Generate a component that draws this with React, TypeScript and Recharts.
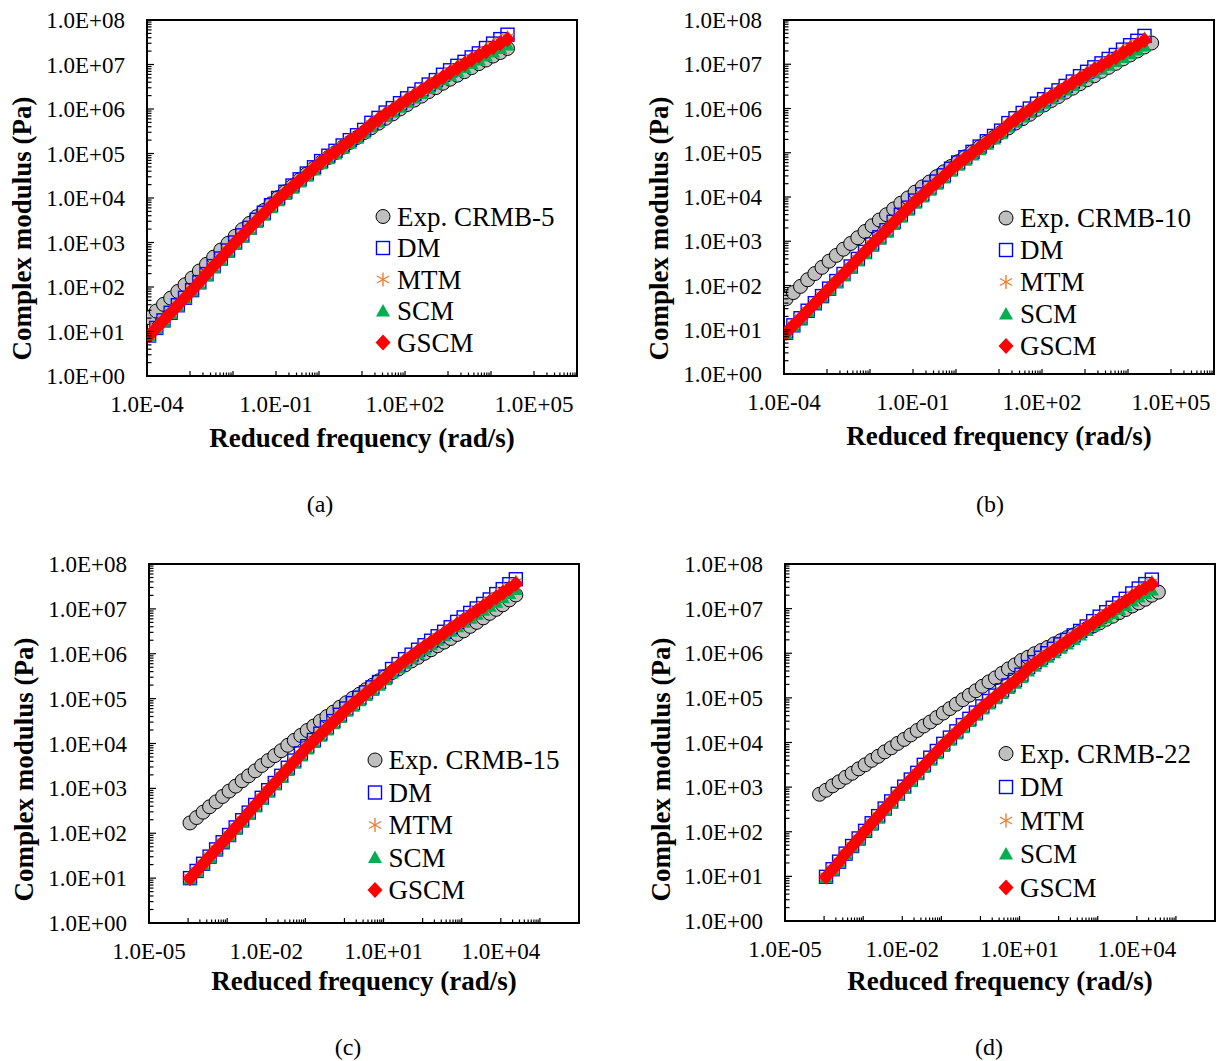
import React from 'react';
import { ScatterChart, Scatter, XAxis, YAxis, ReferenceArea } from 'recharts';

const FONT = "'Liberation Serif', 'Times New Roman', Times, serif";

// ---------- data ----------
// reduced frequency grid (rad/s), about six points per decade
const freqGrid = [
  1.12e-4, 1.65e-4, 2.42e-4, 3.55e-4, 5.21e-4, 7.65e-4,
  1.12e-3, 1.65e-3, 2.42e-3, 3.55e-3, 5.21e-3, 7.65e-3,
  1.12e-2, 1.65e-2, 2.42e-2, 3.55e-2, 5.21e-2, 7.65e-2,
  0.112, 0.165, 0.242, 0.355, 0.521, 0.765,
  1.12, 1.65, 2.42, 3.55, 5.21, 7.65,
  11.2, 16.5, 24.2, 35.5, 52.1, 76.5,
  112, 165, 242, 355, 521, 765,
  1120, 1650, 2420, 3550, 5210, 7650,
  11200, 16500, 24200,
];
const freqB_exp = [...freqGrid, 35500];
const freqD_exp = [7.65e-5, ...freqGrid, 35500];

// log10 of complex modulus |G*| (Pa)
const logA_exp = [1.31,1.46,1.61,1.75,1.90,2.05, 2.20,2.36,2.51,2.67,2.83,2.98, 3.14,3.29,3.43,3.58,3.72,3.87, 4.01,4.14,4.27,4.41,4.54,4.67, 4.80,4.91,5.02,5.14,5.25,5.36, 5.47,5.58,5.68,5.79,5.89,6.00, 6.10,6.20,6.29,6.39,6.48,6.58, 6.67,6.76,6.84,6.93,7.02,7.10, 7.19,7.27,7.36];
const logA_dm = [0.91,1.08,1.25,1.42,1.59,1.76, 1.93,2.11,2.29,2.47,2.64,2.82, 3.00,3.16,3.33,3.51,3.67,3.84, 4.00,4.14,4.28,4.42,4.55,4.69, 4.83,4.95,5.06,5.18,5.30,5.41, 5.53,5.69,5.80,5.92,6.02,6.13, 6.24,6.34,6.44,6.55,6.65,6.77, 6.87,6.97,7.06,7.16,7.25,7.37, 7.47,7.57,7.67];
const logA_mtm = [0.92,1.09,1.26,1.43,1.60,1.77, 1.94,2.12,2.30,2.48,2.65,2.83, 3.01,3.17,3.34,3.50,3.66,3.83, 3.99,4.13,4.27,4.41,4.54,4.68, 4.82,4.94,5.05,5.17,5.29,5.40, 5.52,5.67,5.78,5.90,6.00,6.11, 6.22,6.32,6.42,6.53,6.63,6.74, 6.84,6.94,7.03,7.13,7.22,7.34, 7.43,7.52,7.61];
const logA_scm = [0.89,1.06,1.23,1.40,1.57,1.74, 1.91,2.07,2.25,2.43,2.60,2.78, 2.96,3.12,3.29,3.45,3.61,3.78, 3.94,4.08,4.22,4.36,4.49,4.63, 4.77,4.88,4.99,5.11,5.23,5.34, 5.46,5.60,5.71,5.83,5.93,6.04, 6.15,6.25,6.35,6.46,6.56,6.66, 6.76,6.85,6.93,7.02,7.10,7.19, 7.28,7.36,7.44];
const logA_gscm = [0.91,1.08,1.25,1.42,1.59,1.76, 1.93,2.11,2.29,2.47,2.64,2.82, 3.00,3.16,3.33,3.49,3.65,3.82, 3.98,4.12,4.26,4.40,4.53,4.67, 4.81,4.93,5.04,5.16,5.28,5.39, 5.51,5.66,5.77,5.89,5.99,6.10, 6.21,6.31,6.41,6.52,6.62,6.72, 6.82,6.92,7.01,7.11,7.20,7.30, 7.39,7.48,7.57];

const logB_exp = [1.70,1.84,1.98,2.13,2.27,2.41, 2.55,2.68,2.82,2.95,3.08,3.22, 3.35,3.48,3.60,3.73,3.86,3.98, 4.11,4.23,4.34,4.46,4.57,4.69, 4.80,4.91,5.02,5.13,5.24,5.35, 5.46,5.56,5.67,5.77,5.87,5.98, 6.08,6.18,6.27,6.37,6.46,6.56, 6.65,6.74,6.84,6.93,7.02,7.12, 7.21,7.30,7.39, 7.48];
const logB_dm = [0.93,1.10,1.26,1.43,1.60,1.76, 1.93,2.10,2.26,2.43,2.60,2.76, 2.93,3.09,3.25,3.44,3.60,3.76, 3.92,4.06,4.21,4.35,4.49,4.64, 4.78,4.90,5.02,5.14,5.26,5.38, 5.50,5.67,5.78,5.90,6.00,6.11, 6.21,6.31,6.41,6.51,6.61,6.73, 6.83,6.93,7.02,7.12,7.21,7.33, 7.43,7.53,7.64];
const logB_mtm = [0.94,1.11,1.27,1.44,1.61,1.77, 1.94,2.11,2.27,2.44,2.61,2.77, 2.94,3.10,3.26,3.43,3.59,3.75, 3.91,4.05,4.20,4.34,4.48,4.63, 4.77,4.89,5.01,5.13,5.25,5.37, 5.49,5.65,5.76,5.88,5.98,6.09, 6.19,6.29,6.39,6.49,6.59,6.70, 6.80,6.90,6.99,7.09,7.18,7.30, 7.39,7.48,7.58];
const logB_scm = [0.91,1.08,1.24,1.41,1.58,1.74, 1.91,2.06,2.22,2.39,2.56,2.72, 2.89,3.05,3.21,3.38,3.54,3.70, 3.86,4.00,4.15,4.29,4.43,4.58, 4.72,4.83,4.95,5.07,5.19,5.31, 5.43,5.58,5.69,5.81,5.91,6.02, 6.12,6.22,6.32,6.42,6.52,6.62, 6.72,6.81,6.89,6.98,7.06,7.15, 7.24,7.32,7.41];
const logB_gscm = [0.93,1.10,1.26,1.43,1.60,1.76, 1.93,2.10,2.26,2.43,2.60,2.76, 2.93,3.09,3.25,3.42,3.58,3.74, 3.90,4.04,4.19,4.33,4.47,4.62, 4.76,4.88,5.00,5.12,5.24,5.36, 5.48,5.64,5.75,5.87,5.97,6.08, 6.18,6.28,6.38,6.48,6.58,6.68, 6.78,6.88,6.97,7.07,7.16,7.26, 7.35,7.44,7.54];

const logC_exp = [2.23,2.35,2.47,2.59,2.70,2.82, 2.94,3.05,3.17,3.28,3.39,3.51, 3.62,3.73,3.84,3.96,4.07,4.18, 4.29,4.39,4.50,4.60,4.70,4.81, 4.91,5.01,5.10,5.20,5.30,5.40, 5.49,5.58,5.66,5.75,5.84,5.92, 6.01,6.09,6.18,6.26,6.34,6.43, 6.51,6.61,6.70,6.80,6.90,6.99, 7.09,7.20,7.31];
const logC_dm = [1.00,1.16,1.32,1.48,1.64,1.80, 1.96,2.13,2.29,2.46,2.63,2.79, 2.96,3.12,3.28,3.46,3.62,3.78, 3.94,4.08,4.22,4.36,4.50,4.64, 4.78,4.90,5.02,5.14,5.25,5.37, 5.49,5.66,5.77,5.88,5.98,6.09, 6.19,6.29,6.39,6.49,6.59,6.71, 6.81,6.91,7.01,7.11,7.21,7.33, 7.44,7.55,7.66];
const logC_mtm = [1.01,1.17,1.33,1.49,1.65,1.81, 1.97,2.14,2.30,2.47,2.64,2.80, 2.97,3.13,3.29,3.45,3.61,3.77, 3.93,4.07,4.21,4.35,4.49,4.63, 4.77,4.89,5.01,5.13,5.24,5.36, 5.48,5.64,5.75,5.86,5.96,6.07, 6.17,6.27,6.37,6.47,6.57,6.68, 6.78,6.88,6.98,7.08,7.18,7.30, 7.40,7.50,7.60];
const logC_scm = [0.98,1.14,1.30,1.46,1.62,1.78, 1.94,2.09,2.25,2.42,2.59,2.75, 2.92,3.08,3.24,3.40,3.56,3.72, 3.88,4.02,4.16,4.30,4.44,4.58, 4.72,4.83,4.95,5.07,5.18,5.30, 5.42,5.57,5.68,5.79,5.89,6.00, 6.10,6.20,6.30,6.40,6.50,6.60, 6.70,6.79,6.88,6.97,7.06,7.15, 7.25,7.34,7.43];
const logC_gscm = [1.00,1.16,1.32,1.48,1.64,1.80, 1.96,2.13,2.29,2.46,2.63,2.79, 2.96,3.12,3.28,3.44,3.60,3.76, 3.92,4.06,4.20,4.34,4.48,4.62, 4.76,4.88,5.00,5.12,5.23,5.35, 5.47,5.63,5.74,5.85,5.95,6.06, 6.16,6.26,6.36,6.46,6.56,6.66, 6.76,6.86,6.96,7.06,7.16,7.26, 7.36,7.46,7.56];

const logD_exp = [2.84, 2.93,3.03,3.12,3.22,3.31,3.41, 3.50,3.60,3.69,3.79,3.88,3.98, 4.07,4.17,4.27,4.37,4.46,4.56, 4.66,4.76,4.86,4.96,5.06,5.16, 5.26,5.36,5.45,5.55,5.65,5.74, 5.84,5.91,5.99,6.06,6.13,6.21, 6.28,6.35,6.41,6.48,6.55,6.61, 6.68,6.76,6.83,6.91,6.98,7.06, 7.13,7.21,7.30, 7.37];
const logD_dm = [0.99,1.16,1.33,1.51,1.68,1.85, 2.02,2.19,2.35,2.52,2.68,2.85, 3.01,3.17,3.32,3.50,3.66,3.81, 3.97,4.11,4.25,4.39,4.53,4.67, 4.81,4.93,5.05,5.17,5.28,5.40, 5.52,5.69,5.80,5.90,6.00,6.10, 6.20,6.30,6.40,6.50,6.60,6.72, 6.82,6.92,7.02,7.12,7.22,7.34, 7.45,7.55,7.65];
const logD_mtm = [1.00,1.17,1.34,1.52,1.69,1.86, 2.03,2.20,2.36,2.53,2.69,2.86, 3.02,3.18,3.33,3.49,3.65,3.80, 3.96,4.10,4.24,4.38,4.52,4.66, 4.80,4.92,5.04,5.16,5.27,5.39, 5.51,5.67,5.78,5.88,5.98,6.08, 6.18,6.28,6.38,6.48,6.58,6.69, 6.79,6.89,6.99,7.09,7.19,7.31, 7.41,7.50,7.59];
const logD_scm = [0.97,1.14,1.31,1.49,1.66,1.83, 2.00,2.15,2.31,2.48,2.64,2.81, 2.97,3.13,3.28,3.44,3.60,3.75, 3.91,4.05,4.19,4.33,4.47,4.61, 4.75,4.86,4.98,5.10,5.21,5.33, 5.45,5.60,5.71,5.81,5.91,6.01, 6.11,6.21,6.31,6.41,6.51,6.61, 6.71,6.80,6.89,6.98,7.07,7.17, 7.26,7.34,7.42];
const logD_gscm = [0.99,1.16,1.33,1.51,1.68,1.85, 2.02,2.19,2.35,2.52,2.68,2.85, 3.01,3.17,3.32,3.48,3.64,3.79, 3.95,4.09,4.23,4.37,4.51,4.65, 4.79,4.91,5.03,5.15,5.26,5.38, 5.50,5.66,5.77,5.87,5.97,6.07, 6.17,6.27,6.37,6.47,6.57,6.67, 6.77,6.87,6.97,7.07,7.17,7.27, 7.37,7.46,7.55];

const modelNames = ['DM', 'MTM', 'SCM', 'GSCM'];
const expNames = ['Exp. CRMB-5', 'Exp. CRMB-10', 'Exp. CRMB-15', 'Exp. CRMB-22'];
const captions = ['(a)', '(b)', '(c)', '(d)'];

const yTickLabels = ['1.0E+00','1.0E+01','1.0E+02','1.0E+03','1.0E+04','1.0E+05','1.0E+06','1.0E+07','1.0E+08'];
const xLabelValsAB = [1e-4, 1e-1, 1e2, 1e5];
const xLabelTextsAB = ['1.0E-04', '1.0E-01', '1.0E+02', '1.0E+05'];
const xLabelValsCD = [1e-5, 1e-2, 1e1, 1e4];
const xLabelTextsCD = ['1.0E-05', '1.0E-02', '1.0E+01', '1.0E+04'];

const X_TITLE = 'Reduced frequency (rad/s)';
const Y_TITLE = 'Complex modulus (Pa)';

// ---------- markers ----------
const C_EXP = '#BFBFBF', C_DM = '#0000FF', C_MTM = '#ED7D31', C_SCM = '#00B050', C_GSCM = '#FF0000';

const ExpMark = ({ cx, cy }: any) =>
  cx == null ? <g /> : <circle cx={cx} cy={cy} r={7} fill={C_EXP} stroke="#000" strokeWidth={1} />;
const DMMark = ({ cx, cy }: any) =>
  cx == null ? <g /> : <rect x={cx - 6.5} y={cy - 6.5} width={13} height={13} fill="none" stroke={C_DM} strokeWidth={1.4} />;
const MTMMark = ({ cx, cy }: any) =>
  cx == null ? <g /> : (
    <g stroke={C_MTM} strokeWidth={1.4}>
      <line x1={cx} y1={cy - 7} x2={cx} y2={cy + 7} />
      <line x1={cx - 6.1} y1={cy - 3.5} x2={cx + 6.1} y2={cy + 3.5} />
      <line x1={cx - 6.1} y1={cy + 3.5} x2={cx + 6.1} y2={cy - 3.5} />
    </g>
  );
const SCMMark = ({ cx, cy }: any) =>
  cx == null ? <g /> : <polygon points={`${cx},${cy - 7} ${cx + 7},${cy + 5.5} ${cx - 7},${cy + 5.5}`} fill={C_SCM} />;
const GSCMMark = ({ cx, cy }: any) =>
  cx == null ? <g /> : <polygon points={`${cx},${cy - 8} ${cx + 7.5},${cy} ${cx},${cy + 8} ${cx - 7.5},${cy}`} fill={C_GSCM} />;

const toPts = (freq: number[], logs: number[]) => logs.map((v, i) => ({ x: freq[i], y: Math.pow(10, v) }));

type TickInfo = { v: number; len: number; label: string | null };
const tkey = (v: number) => Math.log10(v).toFixed(5);

function buildXTicks(labelVals: number[], labelTexts: string[], markDecades: number[]): TickInfo[] {
  const m = new Map<string, TickInfo>();
  const add = (v: number, len: number, label: string | null) => {
    const k = tkey(v);
    const e = m.get(k);
    if (e) { e.len = Math.max(e.len, len); if (label) e.label = label; }
    else m.set(k, { v, len, label });
  };
  labelVals.forEach((v, i) => add(v, 0, labelTexts[i]));
  markDecades.forEach((d) => {
    for (let k = 1; k <= 9; k++) add(k * Math.pow(10, d), k === 1 ? 5 : 3.5, null);
    add(Math.pow(10, d + 1), 5, null);
  });
  return Array.from(m.values()).sort((a, b) => a.v - b.v);
}

function buildYTicks(): TickInfo[] {
  const out: TickInfo[] = [];
  for (let d = 0; d < 8; d++) {
    for (let k = 1; k <= 9; k++) {
      out.push({ v: k * Math.pow(10, d), len: k === 1 ? 7 : 4.5, label: k === 1 ? yTickLabels[d] : null });
    }
  }
  out.push({ v: 1e8, len: 7, label: yTickLabels[8] });
  return out;
}

type PanelCfg = {
  wx: number; wy: number; ww: number; wh: number;
  plot: { l: number; r: number; t: number; b: number };
  xDomain: [number, number];
  xLabelVals: number[]; xLabelTexts: string[];
  markDecades: number[];
  expFreq: number[]; modelFreq: number[];
  exp: number[]; dm: number[]; mtm: number[]; scm: number[]; gscm: number[];
  expName: string;
  legend: { mx: number; tx: number; rows: number[] };
  yTitle: { x: number; y: number };
  xTitleY: number;
  caption: string; capX: number; capY: number;
};

function Panel(p: PanelCfg) {
  const L = p.plot.l - p.wx, R = p.plot.r - p.wx, T = p.plot.t - p.wy, B = p.plot.b - p.wy;
  const AX = 60;
  const margin = { top: T, left: L - AX, right: p.ww - R, bottom: p.wh - B - AX };
  const xInfo = buildXTicks(p.xLabelVals, p.xLabelTexts, p.markDecades);
  const yInfo = buildYTicks();
  const findT = (arr: TickInfo[], v: number) => arr.find((t) => tkey(t.v) === tkey(v));

  const renderXTick = (props: any) => {
    const t = findT(xInfo, props.payload.value);
    const x = props.x;
    if (!t) return <g />;
    return (
      <g>
        {t.len > 0 && <line x1={x} x2={x} y1={B} y2={B - t.len} stroke="#000" strokeWidth={1.2} />}
        {t.label && (
          <text x={x} y={B + 36} textAnchor="middle" fontFamily={FONT} fontSize={23} fill="#000">{t.label}</text>
        )}
      </g>
    );
  };
  const renderYTick = (props: any) => {
    const t = findT(yInfo, props.payload.value);
    const y = props.y;
    if (!t) return <g />;
    return (
      <g>
        <line x1={L} x2={L + t.len} y1={y} y2={y} stroke="#000" strokeWidth={1.2} />
        {t.label && (
          <text x={L - 22} y={y + 8} textAnchor="end" fontFamily={FONT} fontSize={23} fill="#000">{t.label}</text>
        )}
      </g>
    );
  };

  const legendItems = [
    { name: p.expName, Mark: ExpMark },
    { name: modelNames[0], Mark: DMMark },
    { name: modelNames[1], Mark: MTMMark },
    { name: modelNames[2], Mark: SCMMark },
    { name: modelNames[3], Mark: GSCMMark },
  ];
  const cxPlot = (L + R) / 2;

  return (
    <div style={{ position: 'absolute', left: p.wx, top: p.wy, width: p.ww, height: p.wh }}>
      <ScatterChart width={p.ww} height={p.wh} margin={margin}>
        <XAxis
          type="number" dataKey="x" scale="log" domain={p.xDomain} allowDataOverflow
          ticks={xInfo.map((t) => t.v)} interval={0} tick={renderXTick}
          tickLine={false} axisLine={false} height={AX}
        />
        <YAxis
          type="number" dataKey="y" scale="log" domain={[1, 1e8]} allowDataOverflow
          ticks={yInfo.map((t) => t.v)} interval={0} tick={renderYTick}
          tickLine={false} axisLine={false} width={AX}
        />
        <ReferenceArea x1={p.xDomain[0]} x2={p.xDomain[1]} y1={1} y2={1e8} fill="none" fillOpacity={0} stroke="#000" strokeWidth={2} />
        <Scatter name={p.expName} data={toPts(p.expFreq, p.exp)} shape={ExpMark} isAnimationActive={false} />
        <Scatter name="DM" data={toPts(p.modelFreq, p.dm)} shape={DMMark} isAnimationActive={false} />
        <Scatter name="MTM" data={toPts(p.modelFreq, p.mtm)} shape={MTMMark} isAnimationActive={false} />
        <Scatter name="SCM" data={toPts(p.modelFreq, p.scm)} shape={SCMMark} isAnimationActive={false} />
        <Scatter name="GSCM" data={toPts(p.modelFreq, p.gscm)} shape={GSCMMark} isAnimationActive={false} />
      </ScatterChart>
      <svg width={p.ww} height={p.wh} style={{ position: 'absolute', left: 0, top: 0, pointerEvents: 'none' }}>
        <text
          x={p.yTitle.x - p.wx} y={p.yTitle.y - p.wy} textAnchor="middle"
          transform={`rotate(-90, ${p.yTitle.x - p.wx}, ${p.yTitle.y - p.wy})`}
          fontFamily={FONT} fontWeight="bold" fontSize={27} fill="#000"
        >{Y_TITLE}</text>
        <text x={cxPlot} y={p.xTitleY - p.wy} textAnchor="middle" fontFamily={FONT} fontWeight="bold" fontSize={27} fill="#000">
          {X_TITLE}
        </text>
        {legendItems.map((it, i) => {
          const cy = p.legend.rows[i] - p.wy;
          const M = it.Mark;
          return (
            <g key={i}>
              <M cx={p.legend.mx - p.wx} cy={cy} />
              <text x={p.legend.tx - p.wx} y={cy + 9} fontFamily={FONT} fontSize={27} fill="#000">{it.name}</text>
            </g>
          );
        })}
        <text x={p.capX - p.wx} y={p.capY - p.wy} textAnchor="middle" fontFamily={FONT} fontSize={24} fill="#000">{p.caption}</text>
      </svg>
    </div>
  );
}

const panels: PanelCfg[] = [
  {
    wx: 0, wy: 0, ww: 609, wh: 540,
    plot: { l: 147, r: 577, t: 20, b: 376 },
    xDomain: [1e-4, 1e6], xLabelVals: xLabelValsAB, xLabelTexts: xLabelTextsAB, markDecades: [-3, -1, 1, 3, 5],
    expFreq: freqGrid, modelFreq: freqGrid,
    exp: logA_exp, dm: logA_dm, mtm: logA_mtm, scm: logA_scm, gscm: logA_gscm,
    expName: expNames[0],
    legend: { mx: 383, tx: 397, rows: [216.5, 248, 279.5, 311, 342.5] },
    yTitle: { x: 30.5, y: 228.5 }, xTitleY: 447,
    caption: captions[0], capX: 320, capY: 512,
  },
  {
    wx: 609, wy: 0, ww: 610, wh: 540,
    plot: { l: 784, r: 1214, t: 20, b: 374 },
    xDomain: [1e-4, 1e6], xLabelVals: xLabelValsAB, xLabelTexts: xLabelTextsAB, markDecades: [-3, -1, 1, 3, 5],
    expFreq: freqB_exp, modelFreq: freqGrid,
    exp: logB_exp, dm: logB_dm, mtm: logB_mtm, scm: logB_scm, gscm: logB_gscm,
    expName: expNames[1],
    legend: { mx: 1006, tx: 1020, rows: [218, 250, 282, 314, 346] },
    yTitle: { x: 668, y: 228.5 }, xTitleY: 445,
    caption: captions[1], capX: 990, capY: 512,
  },
  {
    wx: 0, wy: 540, ww: 609, wh: 521,
    plot: { l: 149, r: 579, t: 564, b: 923 },
    xDomain: [1e-5, 1e6], xLabelVals: xLabelValsCD, xLabelTexts: xLabelTextsCD, markDecades: [-4, -2, 0, 2, 4],
    expFreq: freqGrid, modelFreq: freqGrid,
    exp: logC_exp, dm: logC_dm, mtm: logC_mtm, scm: logC_scm, gscm: logC_gscm,
    expName: expNames[2],
    legend: { mx: 375, tx: 388.5, rows: [760, 792.5, 825, 857.5, 890] },
    yTitle: { x: 32.5, y: 769.5 }, xTitleY: 990,
    caption: captions[2], capX: 348, capY: 1055,
  },
  {
    wx: 609, wy: 540, ww: 610, wh: 521,
    plot: { l: 785, r: 1215, t: 564, b: 921 },
    xDomain: [1e-5, 1e6], xLabelVals: xLabelValsCD, xLabelTexts: xLabelTextsCD, markDecades: [-4, -2, 0, 2, 4],
    expFreq: freqD_exp, modelFreq: freqGrid,
    exp: logD_exp, dm: logD_dm, mtm: logD_mtm, scm: logD_scm, gscm: logD_gscm,
    expName: expNames[3],
    legend: { mx: 1006, tx: 1020, rows: [753.5, 787, 820.5, 854, 887.5] },
    yTitle: { x: 670, y: 769.5 }, xTitleY: 990,
    caption: captions[3], capX: 989, capY: 1055,
  },
];

export default function App() {
  return (
    <div style={{ position: 'absolute', left: 0, top: 0, width: 1219, height: 1061, background: '#fff', fontFamily: FONT }}>
      {panels.map((p, i) => <Panel key={i} {...p} />)}
    </div>
  );
}
